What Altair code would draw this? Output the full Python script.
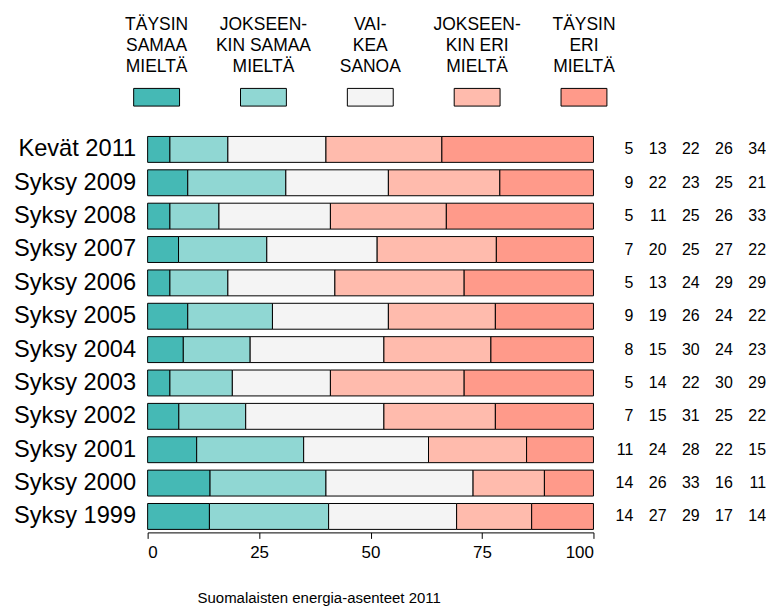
import altair as alt
import pandas as pd

periods = ["Kevät 2011", "Syksy 2009", "Syksy 2008", "Syksy 2007", "Syksy 2006",
           "Syksy 2005", "Syksy 2004", "Syksy 2003", "Syksy 2002", "Syksy 2001",
           "Syksy 2000", "Syksy 1999"]
categories = ["Täysin samaa mieltä", "Jokseenkin samaa mieltä", "Vaikea sanoa",
              "Jokseenkin eri mieltä", "Täysin eri mieltä"]
legend_labels = ["TÄYSIN\nSAMAA\nMIELTÄ", "JOKSEEN-\nKIN SAMAA\nMIELTÄ", "VAI-\nKEA\nSANOA",
                 "JOKSEEN-\nKIN ERI\nMIELTÄ", "TÄYSIN\nERI\nMIELTÄ"]
colors = ["#45b9b5", "#90d7d3", "#f4f4f4", "#ffbbad", "#ff9a8a"]

taysin_samaa = [5, 9, 5, 7, 5, 9, 8, 5, 7, 11, 14, 14]
jokseenkin_samaa = [13, 22, 11, 20, 13, 19, 15, 14, 15, 24, 26, 27]
vaikea_sanoa = [22, 23, 25, 25, 24, 26, 30, 22, 31, 28, 33, 29]
jokseenkin_eri = [26, 25, 26, 27, 29, 24, 24, 30, 25, 22, 16, 17]
taysin_eri = [34, 21, 33, 22, 29, 22, 23, 29, 22, 15, 11, 14]

series = [taysin_samaa, jokseenkin_samaa, vaikea_sanoa, jokseenkin_eri, taysin_eri]
rows = []
for ci, (cat, vals) in enumerate(zip(categories, series)):
    for p, v in zip(periods, vals):
        rows.append({"period": p, "category": cat, "idx": ci, "value": v})
df = pd.DataFrame(rows)
legend_df = pd.DataFrame({"category": categories, "label": legend_labels})

FONT = "Liberation Sans"
color_scale = alt.Scale(domain=categories, range=colors)
y_enc = alt.Y("period:N", sort=periods,
              scale=alt.Scale(paddingInner=0.2234, paddingOuter=0.09),
              axis=alt.Axis(title=None, domain=False, ticks=False, labelFontSize=23.7,
                            labelFont=FONT, labelColor="black", labelPadding=12))

bars = alt.Chart(df).transform_joinaggregate(
    total="sum(value)", groupby=["period"]
).transform_calculate(
    pct="datum.value / datum.total * 100"
).mark_bar(stroke="black", strokeWidth=1).encode(
    x=alt.X("pct:Q", stack="zero",
            scale=alt.Scale(domain=[0, 100], nice=False),
            axis=alt.Axis(values=[0, 25, 50, 75, 100], grid=False,
                          title="Suomalaisten energia-asenteet 2011",
                          titleFont=FONT, titleFontSize=15, titleFontWeight="normal",
                          titleColor="black", titleX=171.5, titleY=70,
                          titleAlign="center", titleBaseline="alphabetic",
                          titleAnchor="start",
                          labelFont=FONT, labelFontSize=17, labelColor="black",
                          labelPadding=6, tickSize=6, tickColor="black",
                          domainColor="black")),
    y=y_enc,
    color=alt.Color("category:N", scale=color_scale, legend=None),
    order=alt.Order("idx:Q"),
)

numbers = alt.Chart(df).mark_text(align="right", baseline="middle", fontSize=16,
                                  font=FONT, color="black").encode(
    x=alt.X("category:N", sort=categories,
            scale=alt.Scale(type="point", range=[487, 620], padding=0),
            axis=None),
    y=alt.Y("period:N", sort=periods),
    text=alt.Text("value:Q"),
)

legend_swatch = alt.Chart(legend_df).mark_point(
    shape="M-1,-0.385L1,-0.385L1,0.385L-1,0.385Z", size=2116, filled=True,
    opacity=1, stroke="black", strokeWidth=1).encode(
    x=alt.X("category:N", sort=categories,
            scale=alt.Scale(type="point", range=[9, 437.5], padding=0), axis=None),
    y=alt.value(-36.3),
    color=alt.Color("category:N", scale=color_scale, legend=None),
)

legend_text = alt.Chart(legend_df).mark_text(
    align="center", baseline="alphabetic", fontSize=17.5, font=FONT, color="black",
    lineBreak="\n", lineHeight=21.2).encode(
    x=alt.X("category:N", sort=categories,
            scale=alt.Scale(type="point", range=[9, 437.5], padding=0), axis=None),
    y=alt.value(-103.7),
    text=alt.Text("label:N"),
)

chart = alt.layer(bars, numbers, legend_swatch, legend_text).resolve_scale(
    x="independent"
).properties(
    width=447, height=400,
    padding={"left": 5, "top": 7, "right": 0, "bottom": 0},
).configure_view(stroke=None)

chart.save("out.html", embed_options={"renderer": "svg", "actions": False})
